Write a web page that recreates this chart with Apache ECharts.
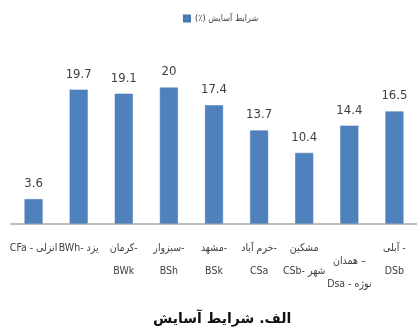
<!DOCTYPE html>
<html>
<head>
<meta charset="utf-8">
<script src="https://cdn.jsdelivr.net/npm/echarts@6/dist/echarts.min.js"></script>
<style>
  html, body { margin: 0; padding: 0; background: #fff; }
  #chart { width: 417px; height: 329px; }
</style>
</head>
<body>
<div id="chart"></div>
<script>
// Station names with Köppen climate code (display order; LRM keeps trailing dashes on the right)
const stations = [
  'CFa - انزلی',
  'BWh- یزد',
  '\u200Eکرمان-\nBWk',
  '\u200Eسبزوار-\nBSh',
  '\u200Eمشهد-\nBSk',
  '\u200Eخرم آباد-\nCSa',
  'مشکین\nCSb- شهر',
  '\u200Eهمدان –\nDsa - نوژه',
  '\u200Eآبلی -\nDSb'
];
// Share of comfortable conditions (%)
const comfort = [3.6, 19.7, 19.1, 20, 17.4, 13.7, 10.4, 14.4, 16.5];
const seriesName = 'شرایط آسایش (٪)\u200F';
const caption = 'الف. شرایط آسایش\u200F';

const narrow = '"Liberation Sans Narrow", "DejaVu Sans Condensed", "DejaVu Sans", sans-serif';

const categoryData = stations.map((name, i) =>
  i === 7 ? { value: name, textStyle: { padding: [13, 0, 0, 0] } } : name
);

const chart = echarts.init(document.getElementById('chart'), null, { renderer: 'canvas' });
chart.setOption({
  animation: false,
  backgroundColor: '#ffffff',
  legend: {
    left: 178,
    top: 9,
    itemWidth: 6,
    itemHeight: 6,
    itemGap: 4,
    icon: 'rect',
    textStyle: { fontSize: 9, color: '#404040', fontFamily: narrow },
    data: [seriesName]
  },
  title: {
    text: caption,
    left: 148,
    top: 307,
    textStyle: { fontSize: 14, fontWeight: 'bold', color: '#111', fontFamily: '"DejaVu Sans", sans-serif' }
  },
  grid: { left: 11, right: -4, top: 53.6, bottom: 105.4, containLabel: false },
  xAxis: {
    type: 'category',
    data: categoryData,
    axisLine: { show: true, lineStyle: { color: '#a6a6a6', width: 1.5 } },
    axisTick: { show: false },
    axisLabel: {
      interval: 0,
      margin: 13,
      fontSize: 10.5,
      lineHeight: 23,
      color: '#404040',
      fontFamily: narrow
    }
  },
  yAxis: {
    type: 'value',
    min: 0,
    max: 25,
    show: false,
    splitLine: { show: false }
  },
  series: [{
    name: seriesName,
    type: 'bar',
    data: comfort,
    barWidth: 18,
    itemStyle: { color: '#4F81BD', borderColor: '#4677b3', borderWidth: 0.5 },
    label: {
      show: true,
      position: 'top',
      distance: 9,
      fontSize: 13,
      color: '#404040',
      fontFamily: narrow
    }
  }]
});
</script>
</body>
</html>
